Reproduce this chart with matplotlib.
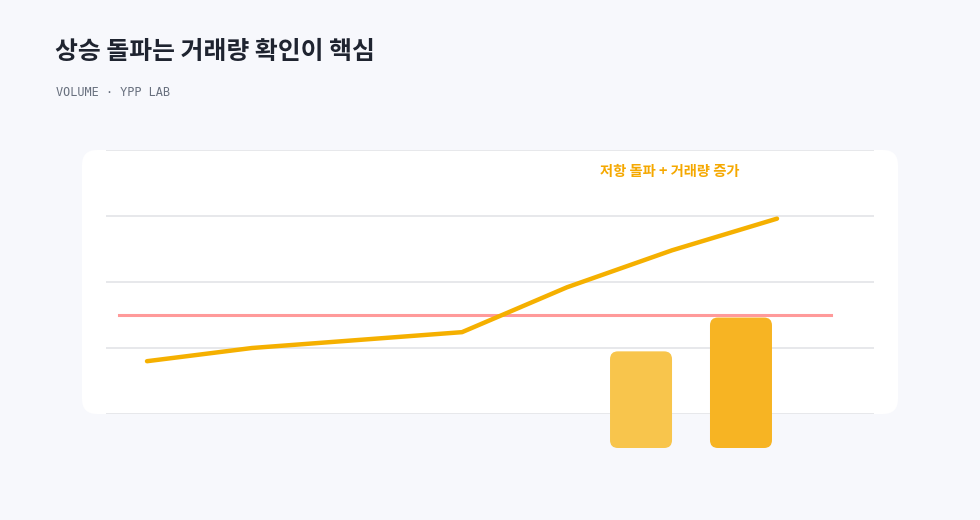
import matplotlib.pyplot as plt
from matplotlib.patches import FancyBboxPatch

plt.rcParams['font.family'] = ['Noto Sans CJK KR', 'DejaVu Sans']

# price path (index units) and resistance level
price = [20, 25, 28, 31, 48, 62, 74]
resistance = 37.5
# volume bars
vol_x = [4.705, 5.657]
vol = [1.2, 1.62]
vol_colors = ['#f8c54c', '#f7b423']

title = '상승 돌파는 거래량 확인이 핵심'
subtitle = 'VOLUME · YPP LAB'
note = '저항 돌파 + 거래량 증가'

W, H = 980, 520
fig = plt.figure(figsize=(W / 100, H / 100), dpi=100)
fig.patch.set_facecolor('#f7f8fc')

# white card behind the plot
card = FancyBboxPatch((0.82, 1.06), 8.16, 2.64, boxstyle='round,pad=0,rounding_size=0.15',
                      transform=fig.dpi_scale_trans, facecolor='white', edgecolor='none', zorder=-1)
fig.patches.append(card)

ax = fig.add_axes([106 / W, (H - 414) / H, 768 / W, 264 / H])
ax.set_facecolor('none')
xlo, xhi = -41 / 105, 727 / 105
ax.set_xlim(xlo, xhi)
ax.set_ylim(0, 100)
ax.set_yticks([0, 25, 50, 75, 100])
ax.grid(axis='y', color='#e3e4e8', linewidth=1.2)
ax.tick_params(length=0, labelleft=False, labelbottom=False)
ax.set_xticks([])
for s in ax.spines.values():
    s.set_visible(False)

ax.plot(range(len(price)), price, color='#f5b000', linewidth=3.2,
        solid_capstyle='round', solid_joinstyle='round', zorder=4)
ax.plot([-0.267, 6.514], [resistance, resistance], color='#ff8f8f', alpha=0.9,
        linewidth=2.2, zorder=3)
ax.text(4.98, 91.8, note, color='#f5a800', fontsize=10.3, fontweight='bold',
        ha='center', va='center')

# volume bars on their own axis, baseline below the card
ax2 = fig.add_axes([106 / W, 72 / H, 768 / W, 298 / H])
ax2.set_facecolor('none')
ax2.set_xlim(xlo, xhi)
ymax = 3.7
ax2.set_ylim(0, ymax)
ax2.axis('off')
bw = 62 / 105
aspect = (ymax / 298) / (1 / 105)
for x, v, c in zip(vol_x, vol, vol_colors):
    ax2.add_patch(FancyBboxPatch((x - bw / 2, 0), bw, v,
                                 boxstyle='round,pad=0,rounding_size=0.075',
                                 mutation_aspect=aspect, facecolor=c,
                                 edgecolor='none', zorder=2))

fig.text(55 / W, 1 - 52 / H, title, fontsize=17.9, fontweight='bold',
         color='#1f2430', va='center', ha='left')
fig.text(56 / W, 1 - 92 / H, subtitle, fontsize=8.6, color='#68707e',
         family='DejaVu Sans Mono', va='center', ha='left')

fig.savefig('out.png', dpi=100, facecolor=fig.get_facecolor())
